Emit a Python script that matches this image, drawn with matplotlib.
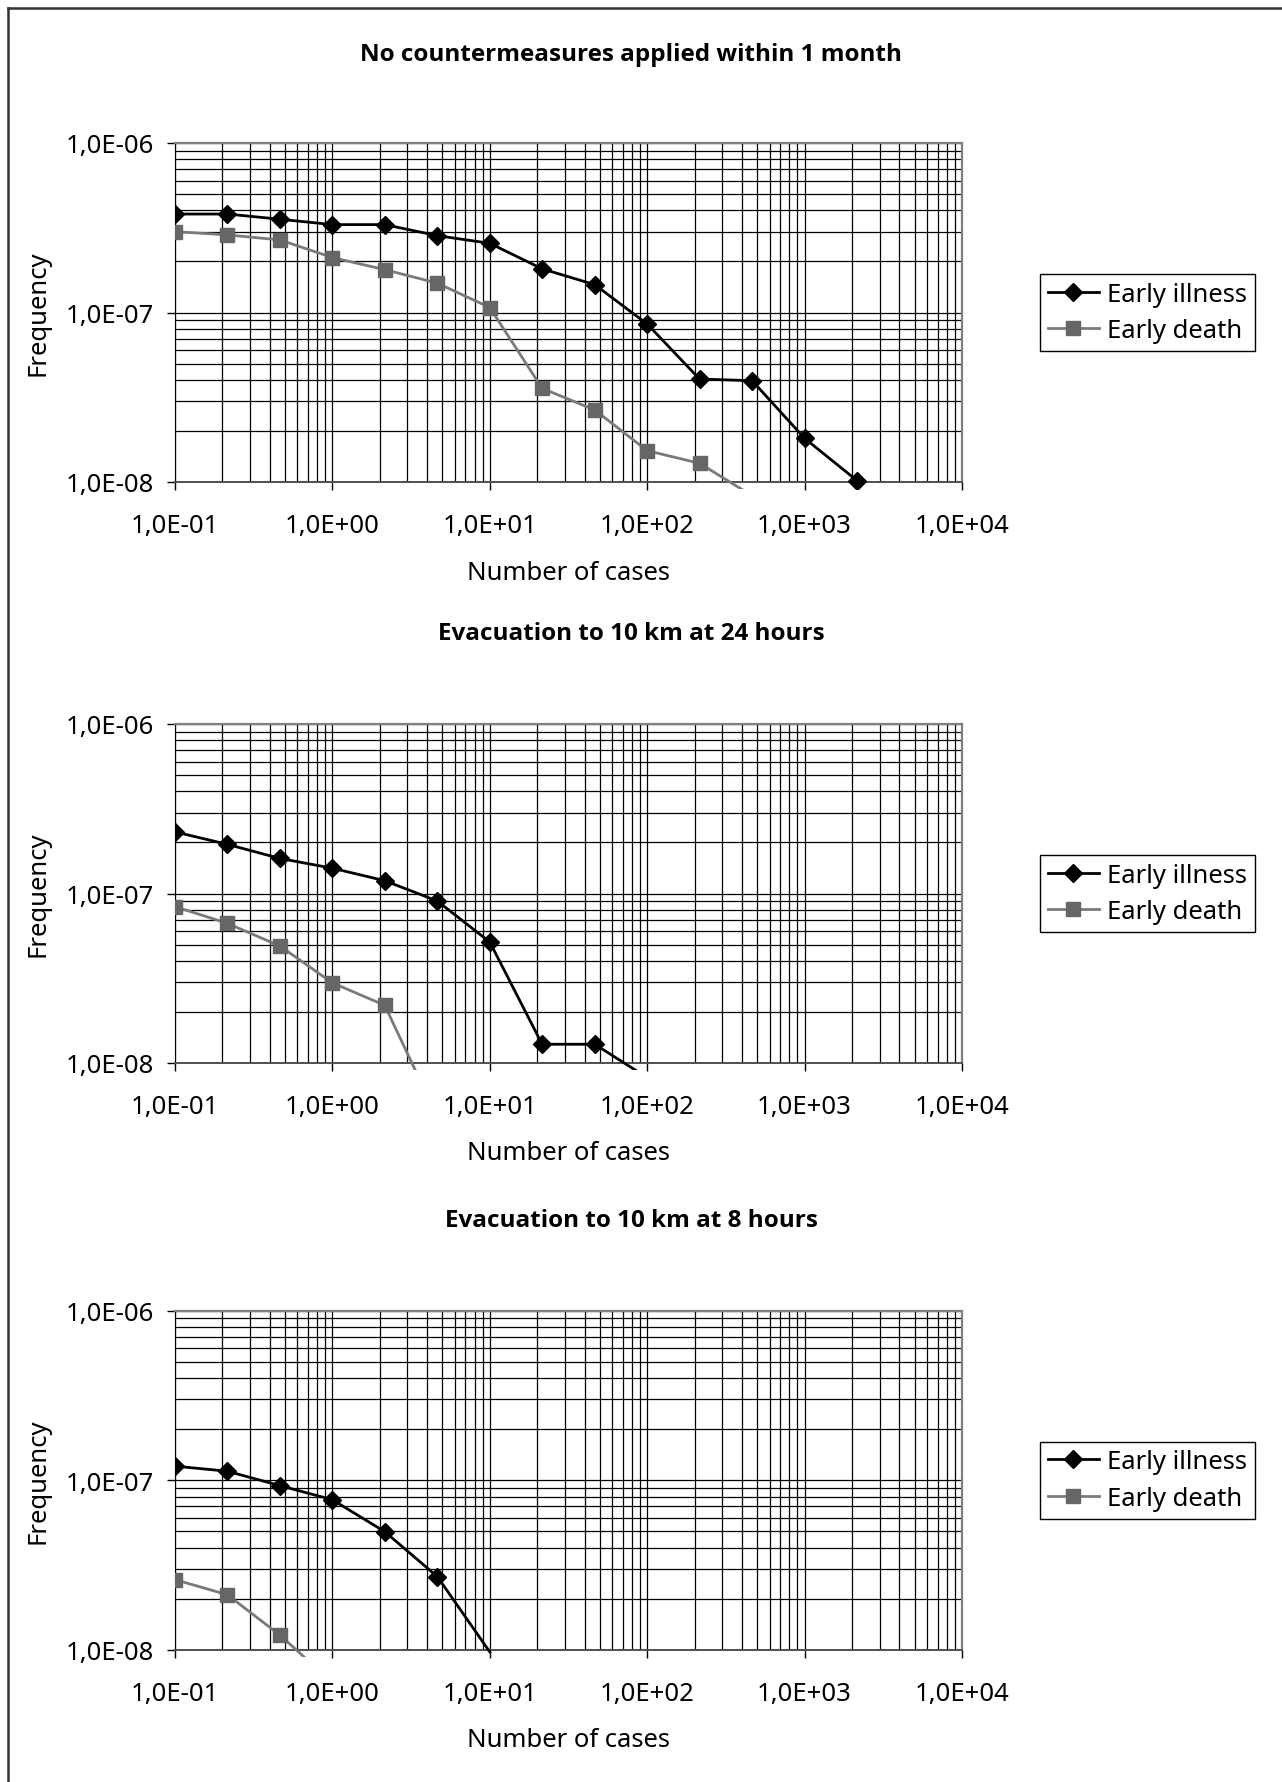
import numpy as np
import matplotlib
matplotlib.use("Agg")
import matplotlib.pyplot as plt
from matplotlib import font_manager
from matplotlib.lines import Line2D
from matplotlib.transforms import Bbox, TransformedBbox

plt.rcParams['font.family'] = ['Noto Sans', 'DejaVu Sans']

# Data (log-spaced number of cases, 3 per decade)
cases = [0.1, 0.215, 0.464, 1, 2.15, 4.64, 10, 21.5, 46.4, 100, 215, 464, 1000, 2150]

titles = ["No countermeasures applied within 1 month",
          "Evacuation to 10 km at 24 hours",
          "Evacuation to 10 km at 8 hours"]

illness_1 = [3.81e-7, 3.81e-7, 3.55e-7, 3.30e-7, 3.30e-7, 2.84e-7, 2.56e-7,
             1.81e-7, 1.46e-7, 8.55e-8, 4.05e-8, 3.96e-8, 1.81e-8, 1.02e-8]
death_1 = [3.00e-7, 2.87e-7, 2.68e-7, 2.11e-7, 1.79e-7, 1.49e-7, 1.07e-7,
           3.57e-8, 2.66e-8, 1.53e-8, 1.29e-8, 8.3e-9]

illness_2 = [2.31e-7, 1.95e-7, 1.61e-7, 1.41e-7, 1.19e-7, 9.03e-8, 5.17e-8,
             1.29e-8, 1.29e-8, 8.2e-9]
death_2 = [8.37e-8, 6.67e-8, 4.90e-8, 2.97e-8, 2.19e-8, 4.8e-9]

illness_3 = [1.21e-7, 1.13e-7, 9.29e-8, 7.67e-8, 4.97e-8, 2.70e-8, 9.7e-9]
death_3 = [2.59e-8, 2.11e-8, 1.22e-8, 6.4e-9]

series_names = ["Early illness", "Early death"]

x_ticks = [0.1, 1, 10, 100, 1000, 10000]
x_tick_labels = ["1,0E-01", "1,0E+00", "1,0E+01", "1,0E+02", "1,0E+03", "1,0E+04"]
y_ticks = [1e-8, 1e-7, 1e-6]
y_tick_labels = ["1,0E-08", "1,0E-07", "1,0E-06"]

################################################################################

# pick a family that really has a bold face for the titles
title_family = "DejaVu Sans"
for fam in ["Noto Sans", "Open Sans", "Lato", "Roboto", "Liberation Sans"]:
    try:
        path = font_manager.findfont(font_manager.FontProperties(family=fam, weight="bold"),
                                     fallback_to_default=False)
        if "bold" in path.lower():
            title_family = fam
            break
    except Exception:
        pass

W, H = 1282, 1783
fig = plt.figure(figsize=(W / 100, H / 100), dpi=100)

ax_left, ax_right = 175, 962
ax_tops = [144, 725, 1311.7]
title_gap = [89, 91, 91]
ax_h = 339
fs = 18.5

ill_color = "black"
death_line = "#7a7a7a"
death_face = "#666666"

data = [(illness_1, death_1), (illness_2, death_2), (illness_3, death_3)]

for i in range(3):
    top = ax_tops[i]
    ax = fig.add_axes([ax_left / W, 1 - (top + ax_h) / H,
                       (ax_right - ax_left) / W, ax_h / H])
    ax.set_xscale("log")
    ax.set_yscale("log")
    ax.set_xlim(0.1, 10000)
    ax.set_ylim(1e-8, 1e-6)

    # grid: every decade and sub-decade, thin black
    ax.grid(True, which="both", color="black", linewidth=0.9)
    ax.set_axisbelow(True)

    ax.set_xticks(x_ticks)
    ax.set_xticklabels(x_tick_labels)
    ax.set_yticks(y_ticks)
    ax.set_yticklabels(y_tick_labels)
    ax.tick_params(which="major", direction="out", length=6, width=1,
                   labelsize=fs, color="black")
    ax.tick_params(axis="x", pad=16.5)
    ax.tick_params(axis="y", pad=9)
    ax.tick_params(which="minor", length=0)

    for s in ["top", "right"]:
        ax.spines[s].set_color("#808080")
        ax.spines[s].set_linewidth(1.6)
    ax.spines["left"].set_color("black")
    ax.spines["bottom"].set_color("#505050")
    ax.spines["bottom"].set_linewidth(1.4)

    # Excel lets lines run a few pixels past the bottom of the plot area
    clip = TransformedBbox(Bbox.from_extents(0, -7 / ax_h, 1, 1), ax.transAxes)

    ill, dth = data[i]
    x_ill = cases[:len(ill)]
    x_dth = cases[:len(dth)]
    ill_marks = [k for k in range(len(ill)) if ill[k] >= 1e-8]
    dth_marks = [k for k in range(len(dth)) if dth[k] >= 1e-8]

    l2, = ax.plot(x_dth, dth, color=death_line, linewidth=2, marker="s",
                  markersize=10.5, markerfacecolor=death_face,
                  markeredgecolor=death_face, markevery=dth_marks, zorder=3)
    l1, = ax.plot(x_ill, ill, color=ill_color, linewidth=2, marker="D",
                  markersize=8.8, markerfacecolor=ill_color,
                  markeredgecolor=ill_color, markevery=ill_marks, zorder=4)
    l1.set_clip_box(clip)
    l2.set_clip_box(clip)

    handles = [Line2D([], [], color=ill_color, linewidth=2, marker="D",
                      markersize=8.8),
               Line2D([], [], color=death_line, linewidth=2, marker="s",
                      markersize=10.5, markerfacecolor=death_face,
                      markeredgecolor=death_face)]
    leg = ax.legend(handles, series_names, loc="center left",
                    bbox_to_anchor=((1040 - ax_left) / (ax_right - ax_left), 0.5),
                    fontsize=fs, frameon=True, fancybox=False, edgecolor="black",
                    framealpha=1, borderpad=0.3, handlelength=2.0,
                    handletextpad=0.3, labelspacing=0.45, borderaxespad=0)
    leg.get_frame().set_linewidth(1)

    # title, x label, y label
    fig.text(631 / W, 1 - (top - title_gap[i]) / H, titles[i], ha="center",
             va="center", fontsize=17.5, fontweight="bold", family=title_family)
    fig.text((ax_left + ax_right) / 2 / W, 1 - (top + ax_h + 90) / H,
             "Number of cases", ha="center", va="center", fontsize=fs)
    fig.text(38 / W, 1 - (top + ax_h / 2) / H, "Frequency", ha="center",
             va="center", rotation=90, fontsize=fs)

# outer frame (left and top edges visible in the reference)
fig.add_artist(Line2D([8 / W, 8 / W], [0, 1 - 9 / H], color="#333333",
                      linewidth=1.8, transform=fig.transFigure))
fig.add_artist(Line2D([8 / W, 1], [1 - 9 / H, 1 - 9 / H], color="#333333",
                      linewidth=1.8, transform=fig.transFigure))

fig.savefig("out.png", dpi=100, facecolor="white")
